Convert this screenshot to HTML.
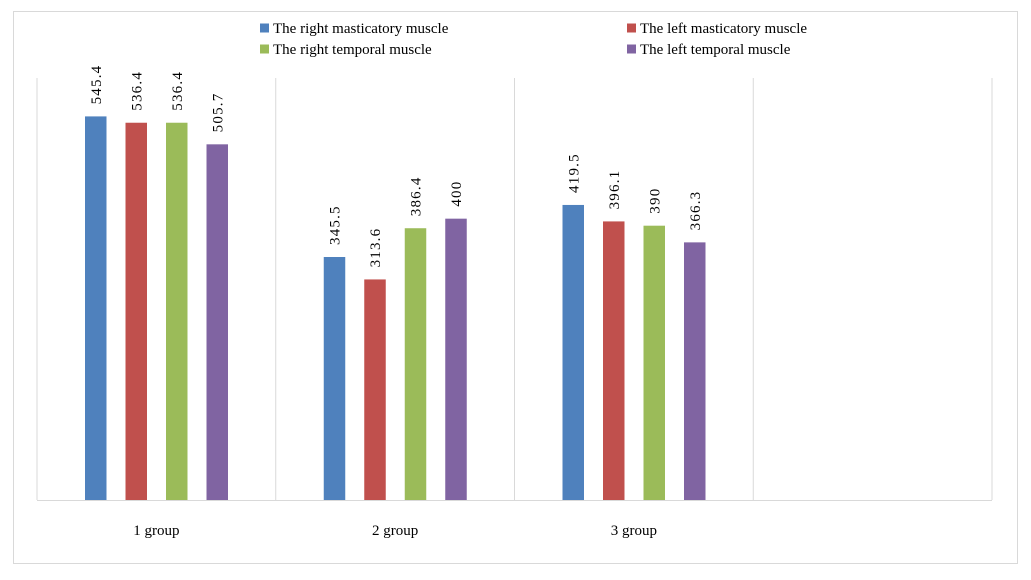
<!DOCTYPE html>
<html><head><meta charset="utf-8"><style>
body{margin:0;background:#fff;}
svg text{font-family:"Liberation Serif",serif;fill:#000;}
</style></head><body>
<svg id="chart" width="1031" height="575" xmlns="http://www.w3.org/2000/svg">
<rect x="13.5" y="11.5" width="1004" height="552" fill="#fff" stroke="#d9d9d9"/>
<g id="grid"></g>
<g id="bars"></g>
<g id="legend"></g>
</svg>
<script>
const categories=["1 group","2 group","3 group",""];
const seriesNames=["The right masticatory muscle","The left masticatory muscle","The right temporal muscle","The left temporal muscle"];
const rightMasticatory=[545.4,345.5,419.5,null];
const leftMasticatory=[536.4,313.6,396.1,null];
const rightTemporal=[536.4,386.4,390,null];
const leftTemporal=[505.7,400,366.3,null];
const valueLabels=[["545.4","345.5","419.5"],["536.4","313.6","396.1"],["536.4","386.4","390"],["505.7","400","366.3"]];
const colors=["#4f81bd","#c0504d","#9bbb59","#8064a2"];
const series=[rightMasticatory,leftMasticatory,rightTemporal,leftTemporal];
const NS="http://www.w3.org/2000/svg";
const x0=37,x1=992,yTop=78,yBot=500,yMax=600;
const catW=(x1-x0)/categories.length;
function y(v){return yBot-(v/yMax)*(yBot-yTop);}
function xBar(c,s){return x0+c*catW+48+s*40.5;}
function mk(t,a,p){const e=document.createElementNS(NS,t);for(const k in a)e.setAttribute(k,a[k]);p.appendChild(e);return e;}
const grid=document.getElementById('grid');
for(let i=0;i<=categories.length;i++){
 const l=mk('line',{x1:x0+i*catW,x2:x0+i*catW,y1:yTop,y2:yBot,stroke:'#d9d9d9'},grid);
 
 
}
const ax=mk('line',{x1:x0,x2:x1,y1:yBot+0.5,y2:yBot+0.5,stroke:'#d9d9d9'},grid);


categories.forEach((c,i)=>{
 if(!c)return;
 const t=mk('text',{x:x0+i*catW+catW/2,y:535,'text-anchor':'middle','font-size':'15'},grid);
 t.textContent=c;
 
 
});
const bars=document.getElementById('bars');
series.forEach((s,si)=>{s.forEach((v,ci)=>{
 if(v==null)return;
 const bx=xBar(ci,si);
 const r=mk('rect',{x:bx,y:y(v),width:21.5,height:yBot-y(v),fill:colors[si]},bars);
 
 
 const tx=bx+16,ty=y(v)-12;
 const t=mk('text',{x:tx,y:ty,'font-size':'15','letter-spacing':'1.2',transform:`rotate(-90 ${tx} ${ty})`},bars);
 t.textContent=valueLabels[si][ci];
 
 
});});
const leg=document.getElementById('legend');
const lx=[260,627],ly=[28,49];
seriesNames.forEach((n,i)=>{
 const cx=lx[i%2],cy=ly[Math.floor(i/2)];
 const g=mk('g',{},leg);
 
 
 mk('rect',{x:cx,y:cy-4.5,width:9,height:9,fill:colors[i]},g);
 const t=mk('text',{x:cx+13,y:cy+5,'font-size':'15'},g);
 t.textContent=n;
});
</script>
</body></html>
